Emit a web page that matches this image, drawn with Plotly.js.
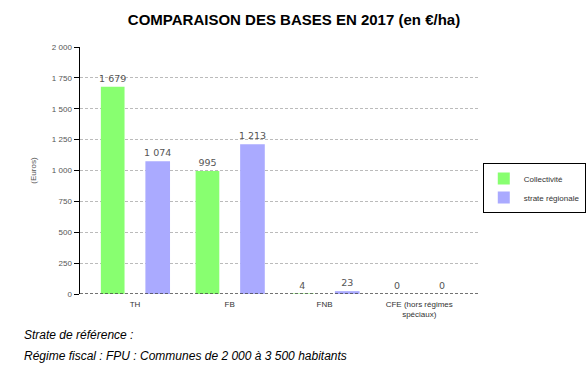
<!DOCTYPE html>
<html><head><meta charset="utf-8">
<script src="https://cdn.plot.ly/plotly-3.0.1.min.js"></script>
<style>body{margin:0;padding:0;background:#fff}#chart{width:588px;height:379px}</style>
</head><body><div id="chart"></div>
<script>
const categories = ["TH", "FB", "FNB", "CFE (hors régimes<br>spéciaux)"];
const collectivite = [1679, 995, 4, 0];
const strateRegionale = [1074, 1213, 23, 0];
const seriesNames = ["Collectivité", "strate régionale"];
const yTicks = [0, 250, 500, 750, 1000, 1250, 1500, 1750, 2000];
const yTickText = ["0", "250", "500", "750", "1 000", "1 250", "1 500", "1 750", "2 000"];
const fmt = v => String(v).replace(/\B(?=(\d{3})+(?!\d))/g, " ");

const xs = categories.map((c, i) => i);
const textFont = {family: "DejaVu Sans", size: 9.5, color: "#555"};
const data = [
  {type: "bar", name: seriesNames[0], x: xs, y: collectivite, offset: -0.36, width: 0.25,
   marker: {color: "#88ff70", line: {width: 0}},
   text: collectivite.map(fmt), textposition: "outside", constraintext: "none", cliponaxis: false, textfont: textFont, hoverinfo: "skip"},
  {type: "bar", name: seriesNames[1], x: xs, y: strateRegionale, offset: 0.11, width: 0.26,
   marker: {color: "#aaaaff", line: {width: 0}},
   text: strateRegionale.map(fmt), textposition: "outside", constraintext: "none", cliponaxis: false, textfont: textFont, hoverinfo: "skip"}
];
const layout = {
  width: 588, height: 379,
  margin: {l: 80, r: 110, t: 47, b: 85, autoexpand: false},
  paper_bgcolor: "#fff", plot_bgcolor: "#fff",
  showlegend: true,
  title: {text: "<b>COMPARAISON DES BASES EN 2017 (en €/ha)</b>", x: 0.5, xanchor: "center", y: 0.947, yanchor: "middle",
          font: {family: "Liberation Sans", size: 15, color: "#000"}},
  xaxis: {range: [-0.58, 3.62], tickvals: xs, ticktext: categories, showgrid: false, zeroline: false, showline: false,
          ticks: "", ticklabelstandoff: 4, tickfont: {family: "Liberation Sans", size: 8, color: "#333"}, fixedrange: true},
  yaxis: {range: [0, 2000], tickvals: yTicks, ticktext: yTickText, showgrid: true, gridcolor: "#bbbbbb", griddash: "3px,2px",
          zeroline: false, showline: true, linecolor: "#000", linewidth: 1.5, ticks: "outside", ticklen: 5, tickcolor: "#000",
          tickfont: {family: "Liberation Sans", size: 8, color: "#555"},
          title: {text: "(Euros)", font: {family: "Liberation Sans", size: 8, color: "#555"}, standoff: 14}},
  legend: {x: 1.012, y: 0.53, xanchor: "left", yanchor: "top", bordercolor: "#000", borderwidth: 1, bgcolor: "#fff",
           font: {family: "Liberation Sans", size: 8, color: "#333"}, itemwidth: 30, tracegroupgap: 4},
  shapes: [{type: "line", xref: "paper", yref: "y", x0: 0, x1: 1, y0: 0, y1: 0, line: {color: "#444", width: 1.5, dash: "3px,2px"}}],
  annotations: [
    {xref: "paper", yref: "paper", x: -0.146, y: -0.166, xanchor: "left", yanchor: "middle", showarrow: false,
     text: "<i>Strate de référence :</i>", font: {family: "Liberation Sans", size: 12, color: "#000"}},
    {xref: "paper", yref: "paper", x: -0.146, y: -0.251, xanchor: "left", yanchor: "middle", showarrow: false,
     text: "<i>Régime fiscal : FPU : Communes de 2 000 à 3 500 habitants</i>", font: {family: "Liberation Sans", size: 12, color: "#000"}}
  ]
};
Plotly.newPlot("chart", data, layout, {displayModeBar: false, staticPlot: true});
</script></body></html>
